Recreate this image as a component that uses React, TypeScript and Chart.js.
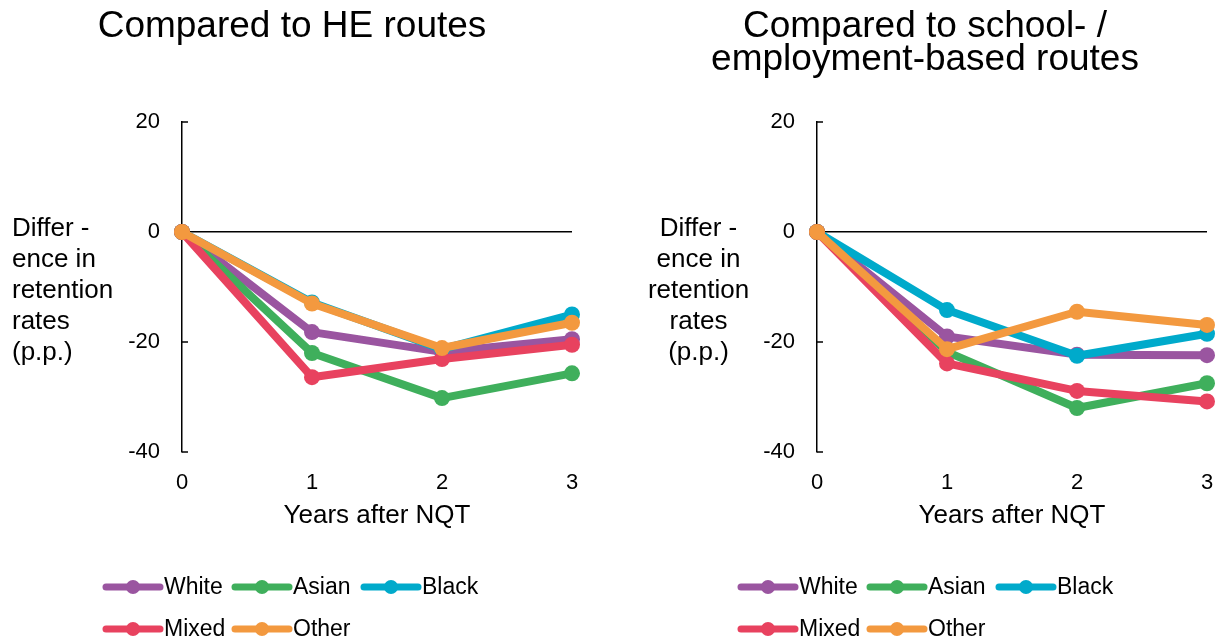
import React, { useEffect, useRef } from 'react';
import { Chart, registerables } from 'chart.js';

Chart.register(...registerables);
Chart.defaults.font.family = "'Liberation Sans', Arial, sans-serif";
Chart.defaults.color = '#000';

// ---- data ----
const years = ['0', '1', '2', '3'];
const seriesNames = ['White', 'Asian', 'Black', 'Mixed', 'Other'];
const seriesColors = ['#9A55A0', '#3FAF5C', '#00AACB', '#E8425F', '#F3993F'];

const heWhite = [0, -18.2, -21.8, -19.5];
const heAsian = [0, -22.0, -30.2, -25.7];
const heBlack = [0, -12.8, -21.3, -15.0];
const heMixed = [0, -26.4, -23.1, -20.5];
const heOther = [0, -13.0, -21.1, -16.5];

const schWhite = [0, -19.0, -22.3, -22.4];
const schAsian = [0, -21.8, -32.0, -27.5];
const schBlack = [0, -14.2, -22.5, -18.5];
const schMixed = [0, -23.9, -28.9, -30.8];
const schOther = [0, -21.3, -14.5, -16.9];

const yMin = -40;
const yMax = 20;
const yStep = 20;

const heTitle = ['Compared to HE routes'];
const schTitle = ['Compared to school- /', 'employment-based routes'];
const xTitle = 'Years after NQT';
const yLabelLines = ['Differ -', 'ence in', 'retention', 'rates', '(p.p.)'];

type Panel = {
  title: string[];
  series: number[][];
  titleX: number;
  titleBaselines: number[];
  yLabelX: number;
  yLabelAlign: CanvasTextAlign;
  axisLeft: number;
  padRight: number;
  legendX: number;
};

const FONT = "'Liberation Sans', Arial, sans-serif";

function makeDecor(p: Panel) {
  return {
    id: 'decor',
    beforeDatasetsDraw(chart: any) {
      const ctx = chart.ctx;
      const ys = chart.scales.y;
      const left = chart.chartArea.left;
      ctx.save();
      ctx.strokeStyle = '#000';
      ctx.lineWidth = 1.5;
      ys.ticks.forEach((t: any) => {
        const py = ys.getPixelForValue(t.value);
        ctx.beginPath();
        ctx.moveTo(left, py);
        ctx.lineTo(left + 6, py);
        ctx.stroke();
      });
      ctx.restore();
    },
    afterDraw(chart: any) {
      const ctx = chart.ctx;
      ctx.save();
      ctx.fillStyle = '#000';
      // title
      ctx.font = `37px ${FONT}`;
      ctx.textAlign = 'center';
      ctx.textBaseline = 'alphabetic';
      p.title.forEach((line, i) => ctx.fillText(line, p.titleX, p.titleBaselines[i]));
      // y label
      ctx.font = `26px ${FONT}`;
      ctx.textAlign = p.yLabelAlign;
      yLabelLines.forEach((line, i) => ctx.fillText(line, p.yLabelX, 236 + i * 31));
      // legend
      const ds = chart.data.datasets;
      ctx.font = `23px ${FONT}`;
      ctx.textAlign = 'left';
      ctx.textBaseline = 'middle';
      ds.forEach((d: any, i: number) => {
        const col = i % 3;
        const row = Math.floor(i / 3);
        const x = p.legendX + col * 129;
        const y = 587 + row * 42;
        ctx.strokeStyle = d.borderColor;
        ctx.lineWidth = 7;
        ctx.lineCap = 'round';
        ctx.beginPath();
        ctx.moveTo(x + 3, y);
        ctx.lineTo(x + 57, y);
        ctx.stroke();
        ctx.fillStyle = d.borderColor;
        ctx.beginPath();
        ctx.arc(x + 30, y, 7, 0, Math.PI * 2);
        ctx.fill();
        ctx.fillStyle = '#000';
        ctx.fillText(d.label, x + 61, y + 1);
      });
      ctx.restore();
    },
  };
}

function ChartPanel({ p }: { p: Panel }) {
  const ref = useRef<HTMLCanvasElement | null>(null);
  useEffect(() => {
    if (!ref.current) return;
    const n = seriesNames.length;
    const chart = new Chart(ref.current, {
      type: 'line',
      data: {
        labels: years,
        datasets: seriesNames.map((name, i) => ({
          label: name,
          data: p.series[i],
          borderColor: seriesColors[i],
          backgroundColor: seriesColors[i],
          pointBackgroundColor: seriesColors[i],
          order: n - i,
          clip: false as any,
        })),
      },
      options: {
        responsive: false,
        animation: false,
        devicePixelRatio: 1,
        events: [],
        layout: { autoPadding: false, padding: { top: 122, left: 0, right: p.padRight, bottom: 110 } },
        plugins: { legend: { display: false }, title: { display: false }, tooltip: { enabled: false } },
        elements: {
          line: { tension: 0, borderWidth: 8, borderJoinStyle: 'round', borderCapStyle: 'round' },
          point: { radius: 8, borderWidth: 0, hoverRadius: 8 },
        },
        scales: {
          x: {
            type: 'category',
            offset: false,
            grid: { display: false, drawTicks: false },
            border: { display: false },
            ticks: { color: '#000', font: { size: 22 }, padding: 18, maxRotation: 0, autoSkip: false },
            title: { display: true, text: xTitle, color: '#000', font: { size: 26 }, padding: 0 },
            afterFit: (s: any) => {
              s.height = 79;
              s.paddingLeft = 0;
              s.paddingRight = 0;
            },
          },
          y: {
            min: yMin,
            max: yMax,
            ticks: { stepSize: yStep, color: '#000', font: { size: 22 }, padding: 22 },
            grid: {
              drawTicks: false,
              color: (c: any) => (c.tick && c.tick.value === 0 ? '#000' : 'rgba(0,0,0,0)'),
              lineWidth: 1.5,
            },
            border: { display: true, color: '#000', width: 1.5 },
            afterFit: (s: any) => { s.width = p.axisLeft; },
          },
        },
      },
      plugins: [makeDecor(p)],
    } as any);
    return () => chart.destroy();
  }, [p]);
  return <canvas ref={ref} width={613} height={641} style={{ display: 'block', width: 613, height: 641 }} />;
}

const leftPanel: Panel = {
  title: heTitle,
  series: [heWhite, heAsian, heBlack, heMixed, heOther],
  titleX: 292,
  titleBaselines: [37],
  yLabelX: 12,
  yLabelAlign: 'left',
  axisLeft: 182,
  padRight: 41,
  legendX: 103,
};

const rightPanel: Panel = {
  title: schTitle,
  series: [schWhite, schAsian, schBlack, schMixed, schOther],
  titleX: 312,
  titleBaselines: [37, 70],
  yLabelX: 85.5,
  yLabelAlign: 'center',
  axisLeft: 204,
  padRight: 19,
  legendX: 125,
};

export default function App() {
  return (
    <div style={{ position: 'absolute', left: 0, top: 0, width: 1226, height: 641, display: 'flex', background: '#fff' }}>
      <ChartPanel p={leftPanel} />
      <ChartPanel p={rightPanel} />
    </div>
  );
}
